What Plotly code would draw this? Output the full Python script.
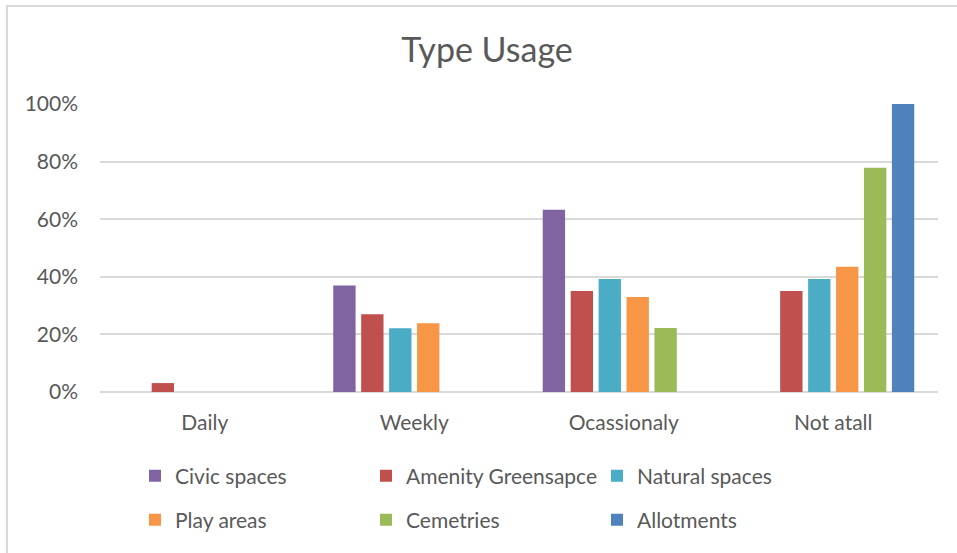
import plotly.graph_objects as go

categories = ["Daily", "Weekly", "Ocassionaly", "Not atall"]
series_names = ["Civic spaces", "Amenity Greensapce", "Natural spaces",
                "Play areas", "Cemetries", "Allotments"]
civic = [0.0, 0.37, 0.633, 0.0]
amenity = [0.031, 0.27, 0.351, 0.351]
natural = [0.0, 0.221, 0.392, 0.392]
play = [0.0, 0.239, 0.33, 0.435]
cemetries = [0.0, 0.0, 0.222, 0.779]
allotments = [0.0, 0.0, 0.0, 1.0]
colors = ["#8064a2", "#c0504d", "#4bacc6", "#f79646", "#9bbb59", "#4f81bd"]
y_ticks = [0, 0.2, 0.4, 0.6, 0.8, 1.0]
y_ticklabels = ["0%", "20%", "40%", "60%", "80%", "100%"]

values = [civic, amenity, natural, play, cemetries, allotments]
legends = ["legend", "legend", "legend", "legend2", "legend2", "legend2"]

FONT = "Lato"
TXT = "#595959"

fig = go.Figure()
for name, vals, col, lg in zip(series_names, values, colors, legends):
    fig.add_trace(go.Bar(x=categories, y=vals, name=name,
                         marker=dict(color=col, line=dict(width=0)),
                         legend=lg))

W, H = 957, 553
L, R, T, B = 100, 19, 104, 161
pw = W - L - R
ph = H - T - B

def px2x(px):
    return (px - L) / pw

def py2y(py):
    return (H - B - py) / ph

legend_common = dict(orientation="h", xanchor="left", yanchor="middle",
                     font=dict(family=FONT, size=21, color=TXT),
                     entrywidth=186, entrywidthmode="pixels",
                     bgcolor="rgba(0,0,0,0)", borderwidth=0,
                     traceorder="normal")

fig.update_layout(
    width=W, height=H,
    margin=dict(l=L, r=R, t=T, b=B),
    paper_bgcolor="white", plot_bgcolor="white",
    barmode="group", bargap=0.2, bargroupgap=0.2,
    title=dict(text="Type Usage", x=487 / W, xref="container", xanchor="center",
               y=1 - 50 / H, yref="container", yanchor="middle",
               font=dict(family=FONT, size=34, color=TXT)),
    font=dict(family=FONT, size=21, color=TXT),
    xaxis=dict(showgrid=False, showline=False, zeroline=False,
               tickfont=dict(family=FONT, size=21, color=TXT),
               ticklabelstandoff=16),
    yaxis=dict(range=[0, 1.0], tickvals=y_ticks, ticktext=y_ticklabels,
               showgrid=True, gridcolor="#d9d9d9", gridwidth=1.5,
               zeroline=True, zerolinecolor="#d9d9d9", zerolinewidth=1.5,
               showline=False,
               tickfont=dict(family=FONT, size=21, color=TXT),
               ticklabelstandoff=21),
    legend=dict(x=px2x(135), y=py2y(476), **legend_common),
    legend2=dict(x=px2x(135), y=py2y(520), **legend_common),
    shapes=[dict(type="rect", xref="paper", yref="paper",
                 x0=px2x(7), x1=px2x(962), y0=py2y(560), y1=py2y(6),
                 line=dict(color="#d9d9d9", width=2), fillcolor="rgba(0,0,0,0)",
                 layer="below")],
)

fig.write_html("out.html",
               config={"displayModeBar": False},
               post_script="document.body.style.margin='0';document.body.style.overflow='hidden';")
